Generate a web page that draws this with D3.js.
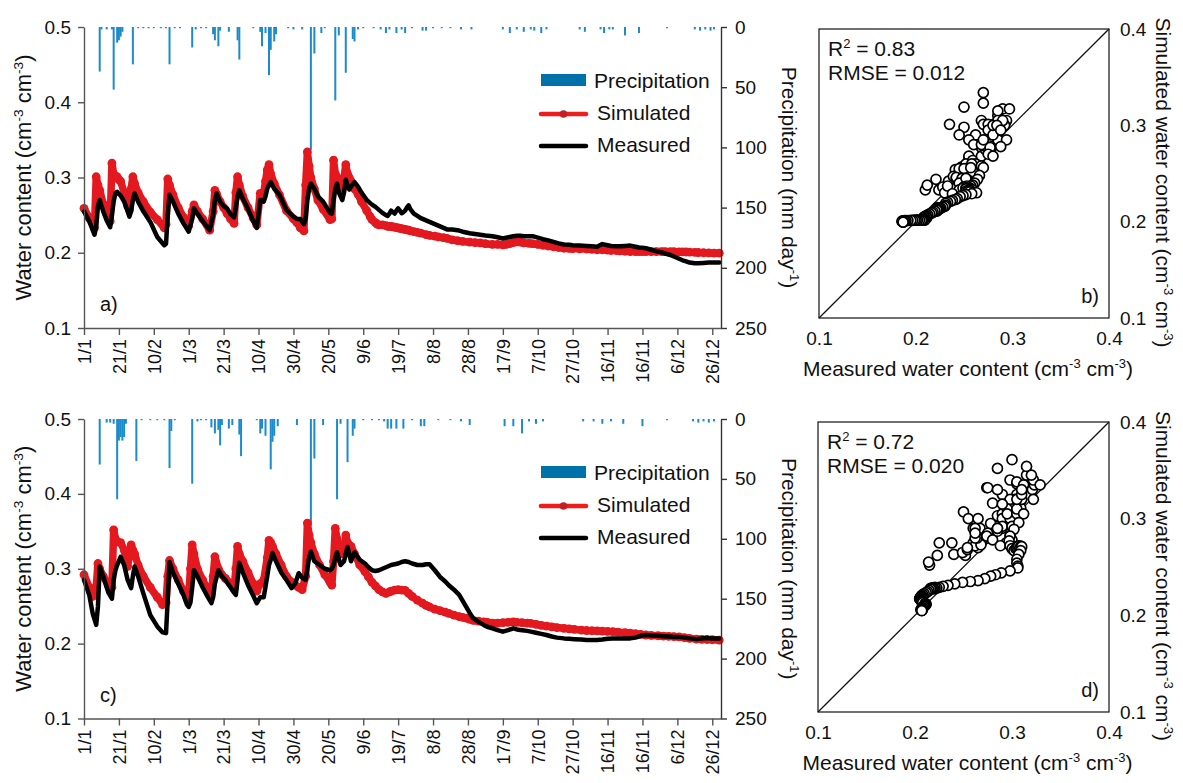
<!DOCTYPE html>
<html><head><meta charset="utf-8">
<script src="https://cdn.jsdelivr.net/npm/d3@7"></script>
<style>
body{margin:0;background:#fff}
svg text{font-family:Arial,"Liberation Sans",Helvetica,sans-serif;fill:#111}
</style>
</head><body>
<svg id="chart" width="1183" height="783"></svg>
<script>
// ---------- tick labels ----------
const xTickDays = [0,20,40,60,80,100,120,140,160,180,200,220,240,260,280,300,320,340,360];
const xTickLabels = ["1/1","21/1","10/2","1/3","21/3","10/4","30/4","20/5","9/6","19/7","8/8","28/8","17/9","7/10","27/10","16/11","16/11","6/12","26/12"];
const wcTicks = [0.1,0.2,0.3,0.4,0.5];
const precipTicks = [0,50,100,150,200,250];
const scatterTicks = [0.1,0.2,0.3,0.4];

// ---------- panel a) water content (day of year, simulated, measured) ----------
const daysA = [0,3,6,7,8,9,11,13,15,16,17,18,19,20,21,23,25,26,27,28,29,31,34,38,42,46,47,48,49,51,54,57,60,62,63,65,68,72,74,75,76,78,80,82,84,86,87,88,89,91,94,97,99,101,103,104,105,106,107,109,112,116,120,122,124,126,127,128,129,130,132,134,137,141,142,143,144,145,146,148,149,150,151,152,153,155,157,159,
 162,164,165,167,168,169,171,173,174,175,176,177,178,179,180,181,182,183,184,185,186,187,189,191,193,196,198,201,203,206,208,211,214,217,221,224,227,230,234,237,240,242,244,246,248,250,252,255,257,260,263,266,269,272,275,278,280,284,288,291,294,297,300,302,305,307,310,313,316,318,320,322,325,328,331,333,336,338,341,343,345,347,350,352,355,358,361,364];
const simA = [.259,.246,.233,.301,.290,.283,.265,.252,.242,.319,.305,.300,.301,.297,.295,.280,.262,.257,.285,.301,.292,.280,.268,.254,.244,.233,.238,.298,.290,.277,.260,.247,.236,.255,.2635,.255,.245,.230,.255,.283,.278,.268,.260,.252,.245,.239,.280,.301,.290,.275,.260,.246,.237,.279,.280,.295,.310,.317,.305,.292,.277,.256,.245,.240,.233,.229,.290,.334,.315,.300,.285,.270,.258,.244,.245,.323,.305,.300,.290,.285,.300,.317,.305,.300,.295,.285,.278,.268,
 .256,.248,.244,.240,.238,.237,.237,.236,.235,.235,.235,.2345,.234,.2335,.233,.2325,.232,.2315,.231,.2305,.230,.229,.228,.227,.226,.224,.223,.222,.221,.220,.219,.217,.216,.215,.214,.2135,.213,.212,.211,.211,.2105,.211,.212,.2135,.2145,.214,.213,.2125,.212,.211,.210,.209,.208,.207,.206,.2058,.2055,.2052,.205,.2045,.204,.204,.2035,.203,.203,.2025,.202,.2015,.2015,.2015,.2015,.2015,.2015,.2015,.2015,.2015,.2014,.2013,.2012,.2011,.201,.2008,.2005,.2003,.200,.1998,.1996,.1995];
const measA = [.255,.242,.224,.235,.262,.270,.255,.243,.234,.250,.268,.279,.281,.278,.276,.268,.255,.248,.255,.270,.279,.268,.255,.241,.221,.210,.212,.250,.277,.268,.252,.239,.228,.245,.259,.252,.242,.230,.250,.270,.279,.268,.262,.259,.251,.247,.260,.275,.283,.272,.258,.242,.233,.270,.268,.275,.285,.290,.294,.285,.277,.257,.248,.245,.245,.238,.245,.270,.285,.292,.285,.275,.268,.253,.252,.270,.285,.292,.280,.270,.280,.297,.290,.284,.288,.294,.288,.280,
 .270,.266,.264,.261,.259,.257,.253,.250,.249,.252,.256,.254,.252,.256,.259,.256,.2525,.254,.256,.260,.263,.258,.252,.249,.246,.243,.241,.238,.236,.233,.231,.231,.230,.228,.226,.225,.224,.223,.222,.2205,.219,.220,.221,.222,.2225,.2225,.222,.222,.222,.220,.218,.2165,.2145,.2125,.211,.2105,.210,.2095,.209,.2085,.208,.2115,.210,.209,.2088,.2085,.209,.2095,.208,.207,.2065,.206,.204,.202,.2005,.199,.197,.195,.192,.190,.1885,.187,.186,.186,.1865,.187,.187,.187];

// ---------- panel a) precipitation (day, mm) ----------
const precipDaysA = [9,10,13,16,17,19,20,21,22,28,31,34,37,40,44,47,49,52,55,62,64,67,70,74,75,77,78,83,88,89,97,101,102,104,106,107,109,110,117,120,125,130,132,136,138,144,146,150,154,155,157,160,166,170,173,175,179,182,184,188,194,196,200,205,210,216,222,240,244,248,252,256,258,262,265,284,287,296,298,301,303,310,318,334,350,353,356,359,361];
const precipA = [37,2,2,2,52,13,11,8,4,31,1,1,1,1,1,1,31,1,1,17,2,1,1,6,11,16,3,4,11,27,1,4,16,5,40,19,12,6,1,2,2,102,22,5,1,61,7,38,10,12,2,1,1,2,5,2,5,2,5,1,3,3,1,1,1,2,2,2,5,2,4,2,3,5,2,2,4,2,5,2,2,7,5,1,2,3,2,3,2];

// ---------- panel c) water content (day of year, simulated, measured) ----------
const daysC = [0,3,5,7,8,9,11,14,16,17,18,19,21,23,25,27,28,29,31,34,38,42,45,47,48,49,51,54,57,59,60,61,62,63,65,68,71,73,74,75,77,79,81,84,86,87,88,89,91,94,97,99,101,103,105,106,107,108,110,113,116,119,121,123,125,127,128,129,130,132,135,138,141,142,143,144,145,147,149,150,151,153,155,158,
 161,163,165,167,169,171,173,175,176,178,180,182,184,186,188,191,194,196,198,201,204,207,209,212,215,217,219,221,223,226,229,231,234,237,240,243,246,248,251,254,256,259,262,265,268,271,275,278,281,285,288,291,294,297,300,303,306,310,313,316,319,322,325,329,332,335,338,341,344,347,351,354,357,360,364];
const simC = [.292,.275,.263,.275,.307,.300,.290,.278,.275,.352,.340,.336,.335,.325,.303,.332,.325,.320,.305,.290,.275,.262,.252,.255,.290,.311,.300,.285,.270,.262,.265,.300,.332,.320,.300,.285,.272,.268,.290,.316,.300,.292,.287,.280,.273,.300,.330,.320,.310,.295,.280,.270,.280,.285,.315,.338,.335,.330,.320,.305,.290,.282,.278,.275,.272,.290,.361,.345,.335,.320,.305,.292,.282,.278,.310,.354,.340,.320,.325,.345,.335,.330,.320,.305,
 .296,.289,.282,.277,.272,.269,.267,.269,.270,.2715,.272,.2715,.271,.267,.263,.258,.254,.251,.249,.246,.244,.242,.2405,.238,.236,.235,.234,.2325,.231,.230,.229,.2285,.2275,.2275,.228,.2285,.229,.2285,.228,.2275,.227,.2258,.2245,.2235,.2225,.2215,.2205,.2198,.219,.218,.2175,.2172,.217,.2166,.2163,.216,.2153,.2145,.214,.2132,.2123,.2115,.211,.2105,.210,.2097,.2094,.209,.208,.207,.206,.2057,.2055,.2052,.2048];
const measC = [.285,.265,.240,.225,.250,.303,.290,.268,.260,.285,.298,.305,.316,.305,.285,.274,.290,.303,.290,.267,.238,.223,.215,.214,.260,.309,.295,.280,.265,.252,.249,.255,.275,.298,.290,.275,.262,.254,.262,.280,.298,.290,.285,.275,.268,.265,.285,.308,.295,.278,.264,.254,.262,.262,.290,.305,.312,.321,.310,.295,.285,.274,.280,.294,.288,.285,.300,.315,.323,.310,.305,.300,.298,.300,.305,.315,.322,.305,.310,.320,.329,.310,.322,.312,
 .307,.302,.298,.297,.298,.300,.302,.304,.305,.306,.307,.309,.310,.309,.307,.305,.305,.306,.306,.298,.289,.283,.278,.272,.265,.257,.249,.241,.234,.229,.225,.2225,.2205,.218,.216,.218,.2205,.219,.218,.217,.216,.2145,.213,.2115,.2095,.208,.207,.2065,.206,.2055,.205,.205,.2048,.2055,.2065,.207,.207,.207,.207,.208,.2105,.2115,.211,.2105,.210,.2095,.209,.209,.208,.207,.206,.2068,.2075,.207,.207];

// ---------- panel c) precipitation (day, mm) ----------
const precipDaysC = [9,13,15,17,19,20,21,22,23,24,30,33,38,42,46,49,50,52,62,65,67,70,73,75,77,78,79,83,85,89,90,99,101,102,104,107,108,109,111,122,130,132,137,145,147,151,154,155,160,165,169,172,174,176,179,183,188,193,195,203,210,216,221,241,246,251,255,259,263,286,292,297,302,309,320,334,349,352,355,358,361];
const precipC = [38,3,3,4,67,18,15,18,15,4,35,1,1,1,1,41,10,1,54,2,1,1,7,12,9,22,5,8,5,13,31,1,12,8,14,42,19,14,6,5,89,33,5,67,4,36,14,8,1,1,1,2,8,8,8,8,1,6,6,1,1,2,5,6,6,12,2,4,2,2,2,4,2,4,6,1,2,3,2,3,2];

// ---------- scatter statistics ----------
const statsB = ["0.83","0.012"];
const statsD = ["0.72","0.020"];

const svg = d3.select("#chart");
const AX = "#555";

function styleAxis(g, size){
  g.attr("font-size", size).attr("font-family", null);
  g.selectAll("path.domain").attr("stroke", AX).attr("stroke-width", 1.4);
  g.selectAll(".tick line").attr("stroke", AX).attr("stroke-width", 1.4);
  g.selectAll(".tick text").attr("fill", "#111");
}

function supLabel(t, parts, big){
  parts.forEach(p=>{
    if(p[1]) t.append("tspan").attr("font-size", big*0.62).attr("dy", -big*0.38).text(p[0]);
    else t.append("tspan").attr("dy", p[2]||0).text(p[0]);
  });
}

function drawPanel(cfg){
  const x = d3.scaleLinear().domain([0,365]).range([84,721]);
  const y = d3.scaleLinear().domain([0.1,0.5]).range([cfg.bottom, cfg.top]);
  const yp = d3.scaleLinear().domain([0,250]).range([cfg.top, cfg.bottom]);
  const g = svg.append("g");

  const pd = cfg.pDays.map((d,i)=>({d:d, v:cfg.pVals[i]}));
  g.selectAll("rect.p").data(pd).join("rect").attr("class","p")
    .attr("x", d=>x(d.d)-1).attr("y", yp(0))
    .attr("width", 2).attr("height", d=>yp(d.v)-yp(0))
    .attr("fill", "#1c8bcc");

  const pts = cfg.days.map((d,i)=>({d:d, s:cfg.sim[i], m:cfg.meas[i]}));
  const lineS = d3.line().x(d=>x(d.d)).y(d=>y(d.s));
  const lineM = d3.line().x(d=>x(d.d)).y(d=>y(d.m));
  g.append("path").datum(pts).attr("d", lineS).attr("fill","none")
    .attr("stroke","#e3191f").attr("stroke-width",7.5).attr("stroke-linejoin","round").attr("stroke-linecap","round");
  g.selectAll("circle.s").data(pts).join("circle").attr("class","s")
    .attr("cx", d=>x(d.d)).attr("cy", d=>y(d.s)).attr("r", 4.4).attr("fill","#e3191f");
  g.append("path").datum(pts).attr("d", lineM).attr("fill","none")
    .attr("stroke","#000").attr("stroke-width",4.5).attr("stroke-linejoin","round").attr("stroke-linecap","round");

  const gl = g.append("g").attr("transform","translate(84,0)")
    .call(d3.axisLeft(y).tickValues(wcTicks).tickFormat(d3.format(".1f")).tickSize(6).tickSizeOuter(0).tickPadding(7));
  styleAxis(gl, 19);
  const gr = g.append("g").attr("transform","translate(721,0)")
    .call(d3.axisRight(yp).tickValues(precipTicks).tickSize(6).tickSizeOuter(0).tickPadding(8));
  styleAxis(gr, 19);
  gr.selectAll("path.domain, .tick line").attr("stroke","#333");
  const gb = g.append("g").attr("transform",`translate(0,${cfg.bottom})`)
    .call(d3.axisBottom(x).tickValues(xTickDays).tickFormat((d,i)=>xTickLabels[i]).tickSize(7).tickSizeOuter(0));
  styleAxis(gb, 18);
  gb.selectAll(".tick text").attr("transform","rotate(-90)").attr("text-anchor","end")
    .attr("x",-11).attr("y",0).attr("dy","0.35em");

  const mid = (cfg.top+cfg.bottom)/2;
  const tl = g.append("text").attr("transform",`translate(31,${mid}) rotate(-90)`)
    .attr("text-anchor","middle").attr("font-size",22);
  supLabel(tl, [["Water content (cm",0],["-3",1],[" cm",0,22*0.38],["-3",1],[")",0,22*0.38]], 22);
  const tr = g.append("text").attr("transform",`translate(782,${mid}) rotate(90)`)
    .attr("text-anchor","middle").attr("font-size",21);
  supLabel(tr, [["Precipitation (mm day",0],["-1",1],[")",0,21*0.38]], 21);

  g.append("text").attr("x",100).attr("y",cfg.bottom-17).attr("font-size",20).text(cfg.letter);

  const t0 = cfg.top;
  g.append("rect").attr("x",541).attr("y",t0+47).attr("width",45).attr("height",12).attr("fill","#0072aa");
  g.append("text").attr("x",594).attr("y",t0+61).attr("font-size",21).text("Precipitation");
  g.append("line").attr("x1",541).attr("x2",586).attr("y1",t0+87).attr("y2",t0+87)
    .attr("stroke","#f01c1c").attr("stroke-width",4.5).attr("stroke-linecap","round");
  g.append("circle").attr("cx",563.5).attr("cy",t0+87).attr("r",3.8).attr("fill","#c41e22");
  g.append("text").attr("x",597).attr("y",t0+93).attr("font-size",21).text("Simulated");
  g.append("line").attr("x1",541).attr("x2",586).attr("y1",t0+119).attr("y2",t0+119)
    .attr("stroke","#000").attr("stroke-width",4.5).attr("stroke-linecap","round");
  g.append("text").attr("x",597).attr("y",t0+125).attr("font-size",21).text("Measured");
}

function drawScatter(cfg){
  const sx = d3.scaleLinear().domain([0.1,0.4]).range([cfg.left, cfg.right]);
  const sy = d3.scaleLinear().domain([0.1,0.4]).range([cfg.bottom, cfg.top]);
  const g = svg.append("g");
  g.append("rect").attr("x",sx(0.1)).attr("y",sy(0.4)).attr("width",sx(0.4)-sx(0.1)).attr("height",sy(0.1)-sy(0.4))
    .attr("fill","none").attr("stroke","#111").attr("stroke-width",1.2);
  g.append("line").attr("x1",sx(0.1)).attr("y1",sy(0.1)).attr("x2",sx(0.4)).attr("y2",sy(0.4))
    .attr("stroke","#111").attr("stroke-width",1.3);
  const pts = cfg.meas.map((m,i)=>({m:m, s:cfg.sim[i]}));
  g.selectAll("circle").data(pts).join("circle")
    .attr("cx", d=>sx(d.m)).attr("cy", d=>sy(d.s)).attr("r",5)
    .attr("fill","#fff").attr("stroke","#000").attr("stroke-width",1.7);

  const gb = g.append("g").attr("transform",`translate(0,${cfg.bottom})`)
    .call(d3.axisBottom(sx).tickValues(scatterTicks).tickFormat(d3.format(".1f")).tickSize(0).tickPadding(14));
  styleAxis(gb, 19); gb.select("path.domain").remove();
  const gr = g.append("g").attr("transform",`translate(${cfg.right},0)`)
    .call(d3.axisRight(sy).tickValues(scatterTicks).tickFormat(d3.format(".1f")).tickSize(0).tickPadding(11));
  styleAxis(gr, 19); gr.select("path.domain").remove();

  const r2 = g.append("text").attr("x",cfg.left+9).attr("y",cfg.top+27).attr("font-size",21);
  supLabel(r2, [["R",0],["2",1],[" = "+cfg.stats[0],0,21*0.38]], 21);
  g.append("text").attr("x",cfg.left+9).attr("y",cfg.top+51).attr("font-size",21).text("RMSE = "+cfg.stats[1]);
  g.append("text").attr("x",cfg.right-10).attr("y",cfg.bottom-15).attr("text-anchor","end").attr("font-size",20).text(cfg.letter);

  const tx = g.append("text").attr("x",(cfg.left+cfg.right)/2+4).attr("y",cfg.bottom+58)
    .attr("text-anchor","middle").attr("font-size",21);
  supLabel(tx, [["Measured water content (cm",0],["-3",1],[" cm",0,21*0.38],["-3",1],[")",0,21*0.38]], 21);
  const ty = g.append("text").attr("transform",`translate(1156,${(cfg.top+cfg.bottom)/2+9}) rotate(90)`)
    .attr("text-anchor","middle").attr("font-size",21);
  supLabel(ty, [["Simulated water content (cm",0],["-3",1],[" cm",0,21*0.38],["-3",1],[")",0,21*0.38]], 21);
}

drawPanel({top:27, bottom:328, days:daysA, sim:simA, meas:measA, pDays:precipDaysA, pVals:precipA, letter:"a)"});
drawPanel({top:419, bottom:718.5, days:daysC, sim:simC, meas:measC, pDays:precipDaysC, pVals:precipC, letter:"c)"});
drawScatter({left:819, right:1109, top:29, bottom:318, meas:measA, sim:simA, stats:statsB, letter:"b)"});
drawScatter({left:818, right:1109, top:422, bottom:712, meas:measC, sim:simC, stats:statsD, letter:"d)"});
</script>
</body></html>
